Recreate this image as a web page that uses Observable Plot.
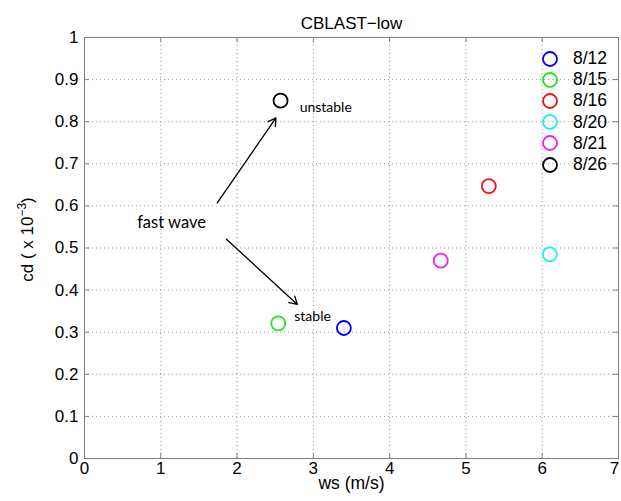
<!DOCTYPE html>
<html><head><meta charset="utf-8">
<script src="https://cdn.jsdelivr.net/npm/d3@7"></script>
<script src="https://cdn.jsdelivr.net/npm/@observablehq/plot@0.6"></script>
<style>
body{margin:0;background:#fff;font-family:"Liberation Sans",Arial,Helvetica,sans-serif;}
#wrap{position:relative;width:621px;height:501px;}
#legend{position:absolute;left:540px;top:48px;font-size:17.5px;line-height:21.2px;color:#000;}
#legend .row{display:flex;align-items:center;height:21.2px;}
#legend svg{margin-right:13px;}
</style>
</head><body>
<div id="wrap"><div id="chart"></div><div id="legend"></div></div>
<script>
// Data
const dates = ["8/12", "8/15", "8/16", "8/20", "8/21", "8/26"];
const ws = [3.40, 2.54, 5.30, 6.10, 4.67, 2.57];
const cd = [0.31, 0.321, 0.647, 0.485, 0.47, 0.85];
const colors = ["#0000ff", "#22e622", "#e8161b", "#1ef0f0", "#f020f0", "#000000"];

const xTicks = [0, 1, 2, 3, 4, 5, 6, 7];
const yTicks = [0, 0.1, 0.2, 0.3, 0.4, 0.5, 0.6, 0.7, 0.8, 0.9, 1];

// Annotations (data coordinates)
const arrowX1 = [1.74, 1.86];
const arrowY1 = [0.607, 0.521];
const arrowX2 = [2.51, 2.79];
const arrowY2 = [0.809, 0.366];
const noteText = ["fast wave", "unstable", "stable"];
const noteX = [0.69, 2.82, 2.75];
const noteY = [0.561, 0.834, 0.338];
const noteSize = [16.5, 14, 14];

const points = dates.map((d, i) => ({date: d, ws: ws[i], cd: cd[i], color: colors[i]}));
const arrows = arrowX1.map((x, i) => ({x1: x, y1: arrowY1[i], x2: arrowX2[i], y2: arrowY2[i]}));
const notes = noteText.map((t, i) => ({text: t, x: noteX[i], y: noteY[i], size: noteSize[i]}));

const W = 621, H = 501;
const mL = 84, mR = 3, mT = 37, mB = 43;
const innerW = W - mL - mR, innerH = H - mT - mB;
const frameColor = "#808080";

const chart = Plot.plot({
  width: W, height: H,
  marginLeft: mL, marginRight: mR, marginTop: mT, marginBottom: mB,
  style: {fontFamily: '"Liberation Sans", Arial, sans-serif', fontSize: "17px", color: "#000", background: "#fff"},
  x: {domain: [0, 7], ticks: xTicks, label: null},
  y: {domain: [0, 1], ticks: yTicks, label: null},
  marks: [
    Plot.gridX(xTicks.slice(1, -1), {stroke: "#999", strokeOpacity: 1, strokeDasharray: "1,3"}),
    Plot.gridY(yTicks.slice(1, -1), {stroke: "#999", strokeOpacity: 1, strokeDasharray: "1,3"}),
    Plot.tickX(xTicks, {x: d => d, stroke: frameColor, insetTop: innerH - 5}),
    Plot.tickX(xTicks, {x: d => d, stroke: frameColor, insetBottom: innerH - 5}),
    Plot.tickY(yTicks, {y: d => d, stroke: frameColor, insetRight: innerW - 5}),
    Plot.tickY(yTicks, {y: d => d, stroke: frameColor, insetLeft: innerW - 5}),
    Plot.frame({stroke: frameColor, strokeWidth: 1}),
    Plot.axisX(xTicks.slice(0, -1), {tickSize: 0, tickPadding: 3, fontSize: 17, tickFormat: d => String(d)}),
    Plot.axisX(xTicks.slice(-1), {tickSize: 0, tickPadding: 3, fontSize: 17, dx: -4, tickFormat: d => String(d)}),
    Plot.axisY(yTicks, {tickSize: 0, tickPadding: 6, fontSize: 17, tickFormat: d => String(d)}),
    Plot.arrow(arrows, {x1: "x1", y1: "y1", x2: "x2", y2: "y2", stroke: "#000", strokeWidth: 1.3, headLength: 10, bend: 0}),
    Plot.text(notes, {x: "x", y: "y", text: "text", fontSize: "size", textAnchor: "start", fill: "#000", fontFamily: '"Lato", "Open Sans", sans-serif'}),
    Plot.dot(points, {x: "ws", y: "cd", r: 7, stroke: "color", strokeWidth: 1.8, fill: "none"}),
    Plot.text(["CBLAST\u2212low"], {frameAnchor: "top", dy: -21, fontSize: 17}),
    Plot.text(["ws (m/s)"], {frameAnchor: "bottom", dy: 30, fontSize: 17.5})
  ]
});
document.getElementById("chart").appendChild(chart);

// y-axis label with superscript
const svg = d3.select(chart);
const yl = svg.append("text")
  .attr("transform", `translate(33,${mT + innerH / 2 - 8}) rotate(-90)`)
  .attr("text-anchor", "middle")
  .attr("font-size", 17)
  .attr("font-family", '"Liberation Sans", Arial, sans-serif')
  .attr("fill", "#000");
yl.append("tspan").text("cd ( x 10");
yl.append("tspan").attr("dy", -7).attr("font-size", 12).text("\u22123");
yl.append("tspan").attr("dy", 7).text(")");

// legend
const leg = d3.select("#legend");
points.forEach(p => {
  const row = leg.append("div").attr("class", "row");
  const s = row.append("svg").attr("width", 20).attr("height", 20);
  s.append("circle").attr("cx", 10).attr("cy", 10).attr("r", 7).attr("fill", "none").attr("stroke", p.color).attr("stroke-width", 1.8);
  row.append("span").text(p.date);
});
</script>
</body></html>
